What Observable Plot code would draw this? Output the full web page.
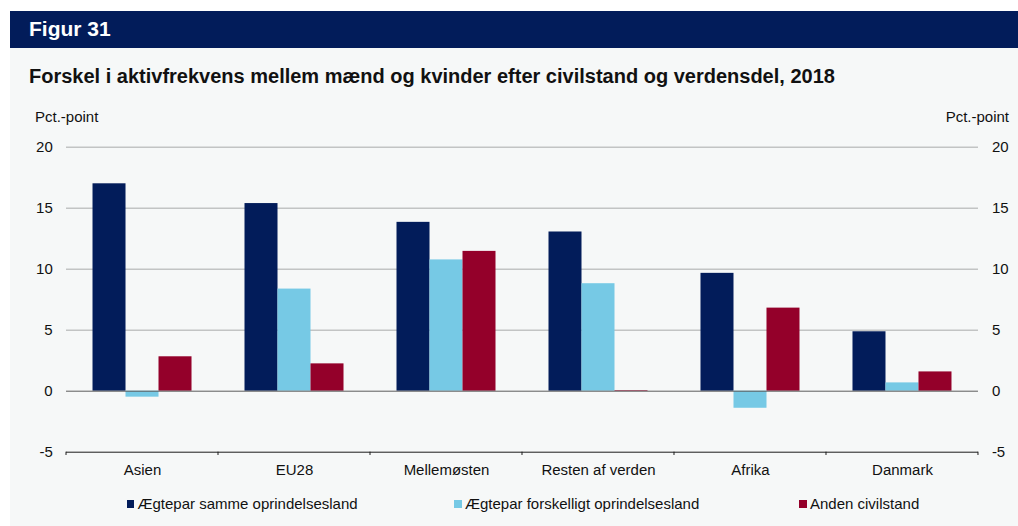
<!DOCTYPE html>
<html>
<head>
<meta charset="utf-8">
<script src="https://cdn.jsdelivr.net/npm/d3@7"></script>
<script src="https://cdn.jsdelivr.net/npm/@observablehq/plot@0.6"></script>
<style>
  html, body { margin: 0; padding: 0; background: #ffffff; }
  body { width: 1018px; height: 526px; position: relative; overflow: hidden;
         font-family: "Liberation Sans", Arial, sans-serif; color: #111; }
  .abs { position: absolute; white-space: nowrap; line-height: 1; }
  #panel { left: 10px; top: 11px; width: 1008px; height: 515px; background: #f6f8f8; }
  #header { left: 10px; top: 11px; width: 1008px; height: 36.5px; background: #021c5a; }
  #fig { left: 29px; top: 17.9px; font-size: 21px; font-weight: bold; color: #fff; }
  #title { left: 29px; top: 65.8px; font-size: 20px; font-weight: bold; color: #111; }
  .unit { top: 109px; font-size: 15px; color: #111; }
  #chart { left: 0; top: 130px; }
  .leg { top: 496.3px; font-size: 15px; color: #111; }
  .sw { position: absolute; width: 7.5px; height: 7.5px; top: 4px; }
</style>
</head>
<body>
<div id="panel" class="abs"></div>
<div id="header" class="abs"></div>
<div id="fig" class="abs">Figur 31</div>
<div id="title" class="abs">Forskel i aktivfrekvens mellem mænd og kvinder efter civilstand og verdensdel, 2018</div>
<div class="abs unit" style="left:35px">Pct.-point</div>
<div class="abs unit" style="right:9px">Pct.-point</div>
<div id="chart" class="abs"></div>
<div id="legend"></div>
<script>
// ---- data ----
const categories = ["Asien", "EU28", "Mellemøsten", "Resten af verden", "Afrika", "Danmark"];
const series = ["Ægtepar samme oprindelsesland", "Ægtepar forskelligt oprindelsesland", "Anden civilstand"];
const sammeValues = [17.0, 15.38, 13.84, 13.05, 9.66, 4.87];
const forskelligtValues = [-0.49, 8.37, 10.76, 8.81, -1.40, 0.68];
const andenValues = [2.82, 2.24, 11.46, 0.05, 6.81, 1.58];
const yTicks = [-5, 0, 5, 10, 15, 20];
const gridTicks = [5, 10, 15, 20];

// ---- styles ----
const colors = ["#021c5a", "#76c9e5", "#94002a"];
const legendLeft = [126.5, 454, 799];

const valuesBySeries = [sammeValues, forskelligtValues, andenValues];
const rows = [];
categories.forEach((c, i) => {
  series.forEach((s, j) => rows.push({category: c, series: s, value: valuesBySeries[j][i]}));
});

const W = 1018, H = 351.7, mTop = 16.7, mBottom = 30, mLeft = 65.5, mRight = 38.7;
const fmt = d => String(d);

const chart = Plot.plot({
  width: W,
  height: H,
  marginTop: mTop,
  marginBottom: mBottom,
  marginLeft: mLeft,
  marginRight: mRight,
  style: {background: "transparent", fontFamily: "'Liberation Sans', Arial, sans-serif", fontSize: "15px", color: "#111"},
  fx: {domain: categories, padding: 0, label: null},
  x: {domain: series, paddingInner: 0, paddingOuter: 0.74, axis: null},
  y: {domain: [-5, 20], label: null},
  color: {domain: series, range: colors},
  marks: [
    Plot.ruleY(gridTicks, {stroke: "#c2c4c4", strokeWidth: 1.4}),
    Plot.barY(rows, {fx: "category", x: "series", y: "value", fill: "series", inset: 0}),
    Plot.ruleY([0], {stroke: "#5a5a5a", strokeWidth: 1}),
    Plot.ruleY([-5], {stroke: "#1a1a1a", strokeWidth: 1}),
    Plot.axisY({anchor: "left", ticks: yTicks, tickFormat: fmt, tickSize: 0, tickPadding: 13.8, label: null, fill: "#111"}),
    Plot.axisY({anchor: "right", ticks: yTicks, tickFormat: fmt, tickSize: 0, tickPadding: 13.4, label: null, fill: "#111"}),
    Plot.axisFx({anchor: "bottom", tickSize: 0, tickPadding: 12.5, label: null, fill: "#111"})
  ]
});

// boundary tick marks on the category axis, from the library's own scales
const fx = chart.scale("fx");
const ys = chart.scale("y");
const y0 = ys.apply(-5);
const bounds = categories.map(c => fx.apply(c)).concat([fx.apply(categories[categories.length - 1]) + fx.bandwidth]);
const g = d3.select(chart).append("g").attr("stroke", "#1a1a1a").attr("stroke-width", 1);
bounds.forEach(b => g.append("line").attr("x1", b).attr("x2", b).attr("y1", y0).attr("y2", y0 + 3.3));

document.getElementById("chart").appendChild(chart);

// legend
const legend = document.getElementById("legend");
series.forEach((s, i) => {
  const item = document.createElement("div");
  item.className = "abs leg";
  item.style.left = legendLeft[i] + "px";
  item.style.paddingLeft = "11px";
  const sw = document.createElement("span");
  sw.className = "sw";
  sw.style.left = "0px";
  sw.style.background = colors[i];
  item.appendChild(sw);
  item.appendChild(document.createTextNode(s));
  legend.appendChild(item);
});
</script>
</body>
</html>
